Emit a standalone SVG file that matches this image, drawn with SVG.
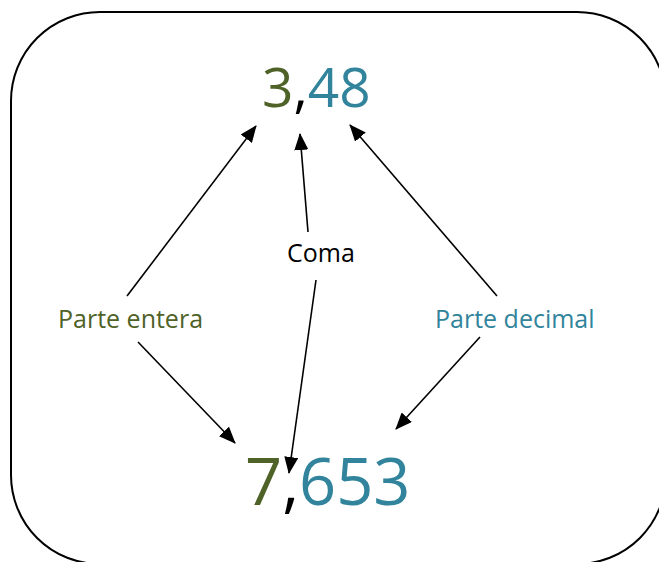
<svg xmlns="http://www.w3.org/2000/svg" width="659" height="562" viewBox="0 0 659 562">
<style>
.t{font-family:"Open Sans","Noto Sans",sans-serif}
.g{fill:#4F6228}
.b{fill:#31849B}
.k{fill:#000}
.c line{stroke:#000;stroke-width:1.6;marker-end:url(#ah)}
</style>
<defs>
<marker id="ah" markerUnits="userSpaceOnUse" markerWidth="18" markerHeight="14" refX="16" refY="7" orient="auto">
<path d="M0,0 L17,7 L0,14 Z" fill="#000"/>
</marker>
</defs>
<rect x="11" y="12" width="655" height="552" rx="89" ry="89" fill="#fff" stroke="#000" stroke-width="2"/>
<g class="c" id="connectors">
<line x1="127" y1="296" x2="256" y2="126"/>
<line x1="308" y1="232" x2="300" y2="134"/>
<line x1="497" y1="296" x2="350" y2="125"/>
<line x1="138" y1="342" x2="235" y2="443"/>
<line x1="316" y1="280" x2="289" y2="473"/>
<line x1="480" y1="337" x2="396" y2="429"/>
</g>
<g id="top"><text class="t" x="262" y="107" font-size="55"><tspan class="g">3</tspan><tspan class="k">,</tspan><tspan class="b">48</tspan></text></g>
<g id="bottom"><text class="t" x="245" y="505" font-size="65"><tspan class="g">7</tspan><tspan class="k">,</tspan><tspan class="b">653</tspan></text></g>
<g id="entera"><text class="t g" x="58" y="328" font-size="25">Parte entera</text></g>
<g id="coma"><text class="t k" x="287" y="262" font-size="25">Coma</text></g>
<g id="decimal"><text class="t b" x="435" y="328" font-size="25">Parte decimal</text></g>
</svg>
